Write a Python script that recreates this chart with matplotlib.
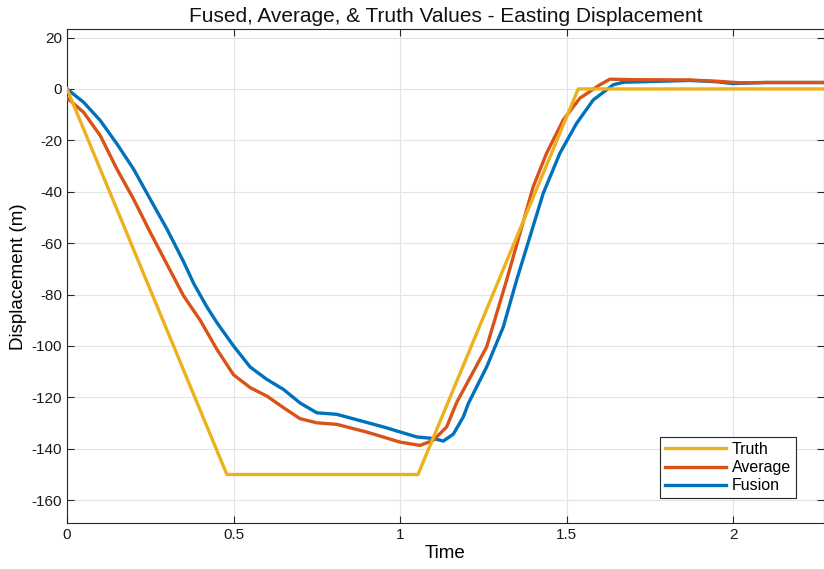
import numpy as np
import matplotlib.pyplot as plt

plt.rcParams['font.family'] = ['Liberation Sans', 'DejaVu Sans']
plt.rcParams['axes.unicode_minus'] = False

# truth trajectory (piecewise linear)
truth_t = [0.0, 0.48, 1.054, 1.535, 2.3]
truth_v = [0.0, -150.0, -150.0, 0.0, 0.0]

# average of the sensors
avg_t = [0.0, 0.05, 0.10, 0.15, 0.20, 0.25, 0.30, 0.35, 0.40, 0.45,
         0.50, 0.55, 0.60, 0.65, 0.70, 0.75, 0.81, 0.90, 1.00, 1.06, 1.10,
         1.14, 1.17, 1.26, 1.32, 1.36, 1.40, 1.44, 1.49, 1.54, 1.60, 1.63,
         1.70, 1.87, 1.95, 2.02, 2.1, 2.3]
avg_v = [-3.5, -9.1, -18.2, -31.2, -42.9, -55.8, -68.2, -80.5, -90.0, -101.3,
         -111.2, -116.2, -119.5, -124.0, -128.3, -129.9, -130.5, -133.5, -137.4, -138.7, -136.7,
         -131.5, -122.0, -100.4, -74.4, -56.2, -38.0, -25.0, -12.1, -3.6, 1.6, 3.8,
         3.6, 3.5, 3.0, 2.4, 2.5, 2.5]

# fused estimate
fus_t = [0.0, 0.05, 0.10, 0.15, 0.20, 0.25, 0.30, 0.35, 0.38, 0.42,
         0.45, 0.50, 0.55, 0.60, 0.65, 0.70, 0.75, 0.81, 0.95, 1.05, 1.10,
         1.13, 1.14, 1.16, 1.19, 1.205, 1.26, 1.31, 1.35, 1.39, 1.43, 1.48,
         1.53, 1.58, 1.64, 1.67, 1.87, 1.95, 2.0, 2.1, 2.3]
fus_v = [0.0, -5.2, -12.3, -21.4, -31.2, -42.9, -54.5, -67.2, -75.6, -84.8,
         -90.9, -100.0, -108.2, -113.0, -116.9, -122.2, -126.0, -126.6, -131.5, -135.4, -136.0,
         -137.0, -136.1, -134.3, -127.6, -122.4, -108.2, -92.6, -74.4, -57.5, -40.6, -25.0,
         -13.4, -4.3, 1.6, 2.6, 3.3, 2.8, 2.1, 2.5, 2.5]

fig = plt.figure(figsize=(8.24, 5.69), dpi=100)
ax = fig.add_axes([0.0813, 0.0803, 0.9187, 0.8682])

lw = 2.4
l3, = ax.plot(fus_t, fus_v, color='#0072BD', lw=lw, zorder=2, label='Fusion')
l2, = ax.plot(avg_t, avg_v, color='#D95319', lw=lw, zorder=3, label='Average')
l1, = ax.plot(truth_t, truth_v, color='#EDB120', lw=lw, zorder=4, label='Truth')

ax.set_xlim(0, 2.273)
ax.set_ylim(-169, 23.2)
ax.set_xticks([0, 0.5, 1, 1.5, 2])
ax.set_xticklabels(['0', '0.5', '1', '1.5', '2'])
ax.set_yticks(np.arange(-160, 21, 20))
ax.grid(True, color='#e3e3e3', lw=0.8)
ax.set_axisbelow(True)
ax.tick_params(direction='in', top=True, right=True, labelsize=11,
               length=5, width=0.8, colors='#262626', labelcolor='#1a1a1a')
for s in ax.spines.values():
    s.set_color('#262626')
    s.set_linewidth(0.8)

ax.set_title('Fused, Average, & Truth Values - Easting Displacement',
             fontsize=15, color='#111111', pad=5)
ax.set_xlabel('Time', fontsize=13.5, labelpad=2)
ax.set_ylabel('Displacement (m)', fontsize=13.5, labelpad=3)

leg = ax.legend(handles=[l1, l2, l3], loc='lower right',
                bbox_to_anchor=(0.963, 0.051), fontsize=11.5, fancybox=False,
                framealpha=1, edgecolor='#262626', handlelength=3.8,
                borderpad=0.3, labelspacing=0.2, handletextpad=0.4,
                borderaxespad=0)
leg.get_frame().set_linewidth(0.8)

fig.savefig('out.png', dpi=100)
